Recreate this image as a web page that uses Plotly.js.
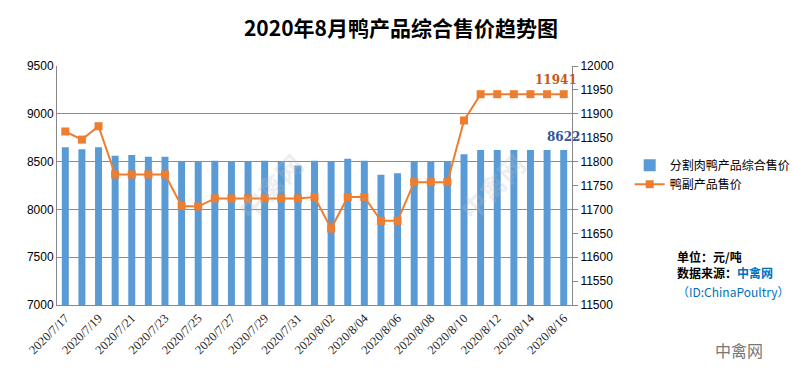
<!DOCTYPE html>
<html>
<head>
<meta charset="utf-8">
<script src="https://cdn.plot.ly/plotly-3.0.1.min.js"></script>
<style>html,body{margin:0;padding:0;background:#fff;}#chart{width:794px;height:384px;}</style>
</head>
<body>
<div id="chart"></div>
<script>
const dates = ["2020/7/17","2020/7/18","2020/7/19","2020/7/20","2020/7/21","2020/7/22","2020/7/23","2020/7/24","2020/7/25","2020/7/26","2020/7/27","2020/7/28","2020/7/29","2020/7/30","2020/7/31","2020/8/01","2020/8/02","2020/8/03","2020/8/04","2020/8/05","2020/8/06","2020/8/07","2020/8/08","2020/8/09","2020/8/10","2020/8/11","2020/8/12","2020/8/13","2020/8/14","2020/8/15","2020/8/16"];
const meatPrice = [8650,8630,8650,8560,8570,8550,8550,8495,8495,8510,8495,8495,8510,8495,8460,8510,8500,8530,8510,8363,8377,8495,8495,8495,8577,8622,8622,8622,8622,8622,8622];
const byproductPrice = [11863,11846,11874,11773,11773,11773,11773,11707,11706,11723,11723,11723,11723,11723,11723,11726,11660,11726,11726,11676,11676,11757,11757,11757,11886,11941,11941,11941,11941,11941,11941];
const tickDates = dates.filter((d,i)=>i%2===0);
const seriesNames = ["分割肉鸭产品综合售价","鸭副产品售价"];

const last = dates.length-1;
const traces = [
  {type:"bar", x:dates, y:meatPrice, name:seriesNames[0], marker:{color:"#5B9BD5"}, yaxis:"y"},
  {type:"scatter", mode:"lines+markers", x:dates, y:byproductPrice, name:seriesNames[1], yaxis:"y2",
   line:{color:"#ED7D31", width:2}, marker:{symbol:"square", size:8, color:"#ED7D31"}}
];
const layout = {
  width:794, height:384,
  margin:{l:57, r:222, t:66, b:79, autoexpand:false},
  paper_bgcolor:"#fff", plot_bgcolor:"#fff",
  bargap:0.58,
  title:{text:"2020年8月鸭产品综合售价趋势图", x:0.505, xanchor:"center", y:0.925, yanchor:"middle",
         font:{family:"Noto Sans CJK SC", size:21, color:"#000", weight:"bold"}},
  xaxis:{type:"category", range:[-0.5, dates.length-0.5], tickvals:tickDates, ticktext:tickDates, tickangle:-45,
         tickfont:{family:"Liberation Serif", size:12.5, color:"#222"},
         showline:true, linecolor:"#888", linewidth:1, ticks:"", showgrid:false, mirror:false},
  yaxis:{range:[7000,9500], dtick:500, showgrid:true, gridcolor:"#8c8c8c", gridwidth:1,
         showline:true, linecolor:"#888", ticks:"", zeroline:false, tickformat:"d",
         tickfont:{family:"Liberation Sans", size:12, color:"#000"}},
  yaxis2:{range:[11500,12000], dtick:50, overlaying:"y", side:"right", showgrid:false, tickformat:"d",
          showline:true, linecolor:"#888", ticks:"outside", ticklen:5, tickcolor:"#888", zeroline:false,
          tickfont:{family:"Liberation Sans", size:12, color:"#000"}},
  showlegend:true,
  legend:{x:1.112, xanchor:"left", y:0.645, yanchor:"top", bgcolor:"rgba(0,0,0,0)",
          font:{family:"Noto Sans CJK SC", size:12, color:"#000"}, tracegroupgap:4, itemwidth:30},
  annotations:[
    {xref:"x", yref:"y", x:dates[last], y:meatPrice[last], text:"<b>"+meatPrice[last]+"</b>", showarrow:false,
     yanchor:"bottom", yshift:4, font:{family:"DejaVu Serif", size:12, color:"#2F5597"}},
    {xref:"x", yref:"y2", x:dates[last], y:byproductPrice[last], text:"<b>"+byproductPrice[last]+"</b>", showarrow:false,
     yanchor:"bottom", yshift:5, xshift:-8, font:{family:"DejaVu Serif", size:12, color:"#C55A11"}},
    {xref:"paper", yref:"paper", x:1.2, xanchor:"left", y:0.17, yanchor:"middle", align:"left",
     text:"<b>单位：元/吨<br>数据来源：<span style='color:#0070C0'>中禽网</span></b>", showarrow:false,
     font:{family:"Noto Sans CJK SC", size:12, color:"#000"}},
    {xref:"paper", yref:"paper", x:1.2, xanchor:"left", y:0.055, yanchor:"middle",
     text:"（ID:ChinaPoultry）", showarrow:false, font:{family:"Noto Sans CJK SC", size:12, color:"#0070C0"}},
    {xref:"paper", yref:"paper", x:1.274, xanchor:"left", y:-0.19, yanchor:"middle",
     text:"中禽网", showarrow:false, font:{family:"Noto Sans CJK SC", size:16, color:"#777"}},
    {xref:"paper", yref:"paper", x:0.33, y:0.68, text:"中禽网", textangle:-45, showarrow:false,
     font:{family:"Noto Sans CJK SC", size:26, color:"rgba(190,190,190,0.25)", weight:"bold"}},
    {xref:"paper", yref:"paper", x:0.93, y:0.68, text:"中禽网", textangle:-45, showarrow:false,
     font:{family:"Noto Sans CJK SC", size:26, color:"rgba(190,190,190,0.25)", weight:"bold"}}
  ]
};
Plotly.newPlot("chart", traces, layout, {displayModeBar:false, staticPlot:true});
</script>
</body>
</html>
